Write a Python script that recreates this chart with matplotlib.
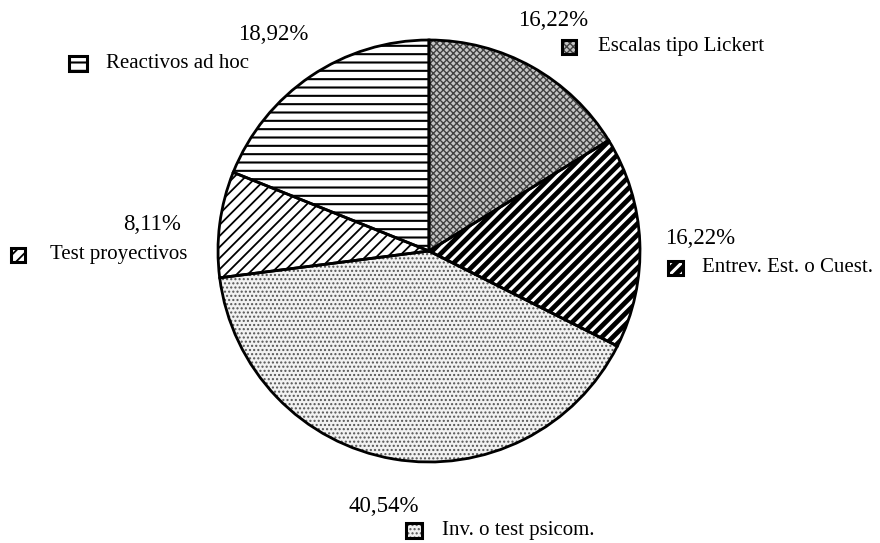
# Pie chart: instrumentos de evaluacion
import matplotlib
matplotlib.use('Agg')
import matplotlib.pyplot as plt
from matplotlib.patches import Rectangle, Wedge

# Data
categorias = ['Escalas tipo Lickert', 'Entrev. Est. o Cuest.', 'Inv. o test psicom.',
              'Test proyectivos', 'Reactivos ad hoc']
porcentajes = [16.22, 16.22, 40.54, 8.11, 18.92]

# Styles per slice: (facecolor, hatch colour, hatch, hatch linewidth)
estilos = [('#c4c4c4', '#404040', 'xxxxx', 1.0),
           ('black', 'white', '///', 2.2),
           ('#f2f2f2', '#555555', '....', 1.0),
           ('white', 'black', '///', 1.3),
           ('white', 'black', '--', 1.5)]

# label layout in pixel coords (top-left origin): pct text, marker, name
W, H = 880, 543
pct_pos = [(588, 20, 'right'), (665, 239, 'left'), (348, 506, 'left'),
           (123, 225, 'left'), (238, 35, 'left')]
marca_pos = [(562, 40, 14, 14), (668, 261, 15, 14), (406, 523, 16, 15),
             (11, 248, 14, 14), (69, 56, 18, 15)]
nombre_pos = [(598, 47), (702, 268), (442, 530), (50, 255), (106, 63)]

plt.rcParams['font.family'] = ['Liberation Serif', 'DejaVu Serif']
plt.rcParams['hatch.linewidth'] = 1.5

fig = plt.figure(figsize=(W / 100, H / 100), dpi=100)
ax = fig.add_axes([0, 0, 1, 1])

def py(y):
    return H - y

centro = (429, py(251))
radio = 211

wedges, _ = ax.pie(porcentajes, startangle=90, counterclock=False,
                   center=centro, radius=radio,
                   wedgeprops=dict(linewidth=0))
for w, (fc, hc, hatch, hlw) in zip(wedges, estilos):
    w.set_facecolor(fc)
    w.set_edgecolor(hc)
    w.set_hatch(hatch)
    w.set_linewidth(0)
    if hasattr(w, 'set_hatch_linewidth'):
        w.set_hatch_linewidth(hlw)

# black outlines on top of the hatched wedges
for w in wedges:
    ax.add_patch(Wedge(w.center, w.r, w.theta1, w.theta2, facecolor='none',
                       edgecolor='black', linewidth=2.0, zorder=3))

# labels with small pattern squares
for i, nombre in enumerate(categorias):
    fc, hc, hatch, hlw = estilos[i]
    px, pyy, ha = pct_pos[i]
    txt = ('%.2f' % porcentajes[i]).replace('.', ',') + '%'
    ax.text(px, py(pyy), txt, fontsize=16.5, ha=ha, va='center', color='black')
    mx, my, mw, mh = marca_pos[i]
    r = Rectangle((mx, py(my + mh)), mw, mh, facecolor=fc, edgecolor=hc,
                  hatch=hatch, linewidth=0, zorder=3)
    if hasattr(r, 'set_hatch_linewidth'):
        r.set_hatch_linewidth(hlw)
    ax.add_patch(r)
    ax.add_patch(Rectangle((mx, py(my + mh)), mw, mh, facecolor='none',
                           edgecolor='black', linewidth=2.2, zorder=4))
    nx, ny = nombre_pos[i]
    ax.text(nx, py(ny), nombre, fontsize=15, ha='left', va='center', color='black')

ax.set_xlim(0, W)
ax.set_ylim(0, H)
ax.set_aspect('equal')
ax.axis('off')

fig.savefig('out.png', dpi=100, facecolor='white')
